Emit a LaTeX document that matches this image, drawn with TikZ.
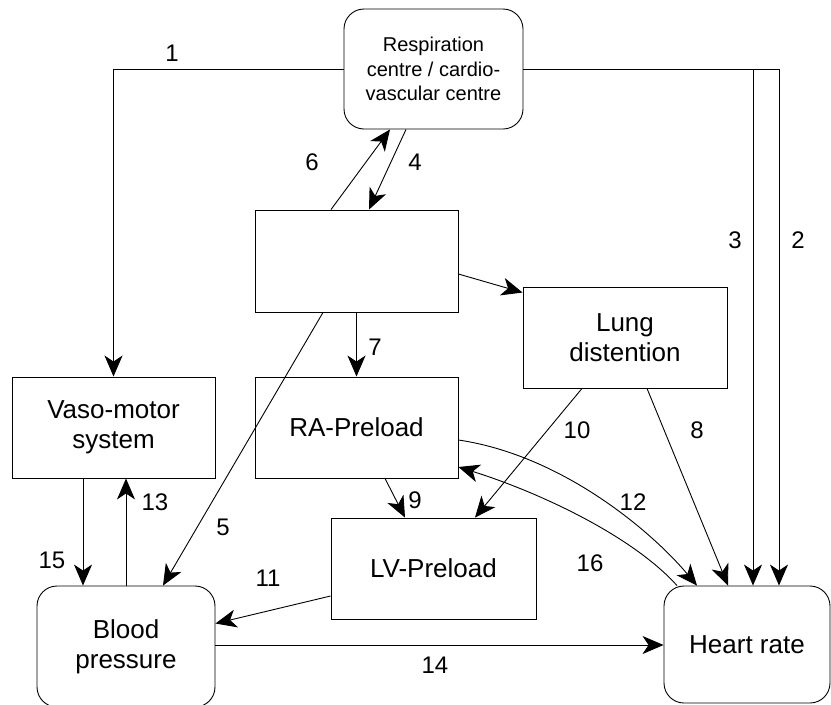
\documentclass[tikz,border=0pt]{standalone}
\usepackage{fontspec}
\setmainfont{Liberation Sans}
\usetikzlibrary{arrows.meta}
\begin{document}
\begin{tikzpicture}[x=1pt,y=-1pt,
  box/.style={draw, line width=0.9pt, align=center, inner sep=0pt,
    font=\fontsize{26}{30}\selectfont},
  roundbox/.style={box, rounded corners=20pt},
  arr/.style={line width=0.9pt, -{Stealth[length=21pt,width=18pt,inset=6pt]}},
  lbl/.style={font=\fontsize{24}{28}\selectfont, inner sep=0pt},
]
\fill[white] (0,0) rectangle (831,705);
\useasboundingbox (0,0) rectangle (831,705);

% boxes
\node[roundbox, minimum width=179pt, minimum height=120pt,
      font=\fontsize{20}{24.5}\selectfont] (resp) at (433.5,69)
      {Respiration\\centre / cardio-\\vascular centre};
\node[box, minimum width=203pt, minimum height=102pt] (blank) at (356.5,261) {};
\node[box, minimum width=204pt, minimum height=101pt] (lung) at (625,337.5) {Lung\\distention};
\node[box, minimum width=203pt, minimum height=101pt] (vaso) at (113.5,427.5) {Vaso-motor\\system};
\node[box, minimum width=203pt, minimum height=101pt] (ra) at (356.5,427.5) {RA-Preload};
\node[box, minimum width=205pt, minimum height=101pt] (lv) at (433.5,568.5) {LV-Preload};
\node[roundbox, minimum width=178pt, minimum height=121pt] (bp) at (126,646.5) {Blood\\pressure};
\node[roundbox, minimum width=166pt, minimum height=117pt] (hr) at (747,644.5) {Heart rate};

% connectors
\draw[arr] (resp.west) -| (vaso.north);
\draw[arr] (resp.east) -| ([xshift=32pt]hr.north);
\draw[arr] ([xshift=6pt]hr.north |- resp.east) -- ([xshift=6pt]hr.north);
\draw[arr] ([xshift=-27.5pt]resp.south) -- ([xshift=12.5pt]blank.north);
\draw[arr] ([xshift=-25.5pt]blank.north) -- ([xshift=-43.5pt]resp.south);
\draw[arr] ([yshift=-13pt]blank.east) -- ([yshift=-6pt]lung.north west);
\draw[arr] (blank.south) -- (ra.north);
\draw[arr] ([xshift=-33.5pt]blank.south) -- ([xshift=37pt]bp.north);
\draw[arr] ([xshift=-30.5pt]vaso.south) -- ([xshift=-30.5pt]vaso.south |- bp.north);
\draw[arr] (bp.north) -- (bp.north |- vaso.south);
\draw[arr] ([xshift=28.5pt]ra.south) -- ([xshift=-28.5pt]lv.north);
\draw[arr] ([yshift=-27.5pt]lv.west) -- ([yshift=23pt]bp.east);
\draw[arr] ([yshift=1.5pt]bp.east) -- ([yshift=1.5pt]bp.east -| hr.west);
\draw[arr] ([xshift=-43pt]lung.south) -- ([xshift=41.5pt]lv.north);
\draw[arr] ([xshift=22pt]lung.south) -- ([xshift=-19pt]hr.north);
\draw[arr] ([yshift=-12.5pt]ra.east) .. controls +(102,15) and +(-47,-56) .. ([xshift=-50pt]hr.north);
\draw[arr] ([xshift=-70pt]hr.north) .. controls +(-45,-50) and +(80,25) .. ([yshift=-39.5pt]ra.east);

% connector labels
\node[lbl] (l1) at (172,53) {1};
\node[lbl] (l2) at (798,240) {2};
\node[lbl] (l3) at (735,240) {3};
\node[lbl] (l4) at (415,162) {4};
\node[lbl] (l5) at (223,527) {5};
\node[lbl] (l6) at (312,162) {6};
\node[lbl] (l7) at (375,347) {7};
\node[lbl] (l8) at (697,430) {8};
\node[lbl] (l9) at (415,500) {9};
\node[lbl] (l10) at (577,430) {10};
\node[lbl] (l11) at (268,578) {11};
\node[lbl] (l12) at (633,502) {12};
\node[lbl] (l13) at (155,502) {13};
\node[lbl] (l14) at (435,665) {14};
\node[lbl] (l15) at (52,560) {15};
\node[lbl] (l16) at (590,563) {16};
\end{tikzpicture}
\end{document}
